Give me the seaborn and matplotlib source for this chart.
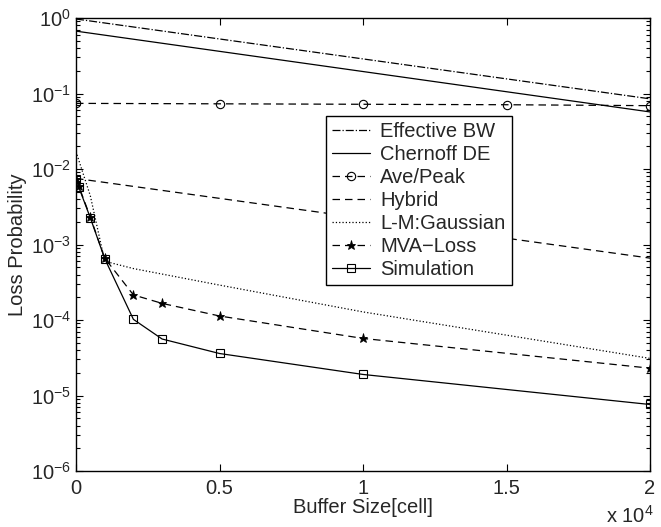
import numpy as np
import pandas as pd
import matplotlib
matplotlib.use('Agg')
import matplotlib.pyplot as plt
import seaborn as sns
from matplotlib.ticker import FixedLocator, FuncFormatter, LogLocator, NullFormatter

# ---------------- data ----------------
ebw_x = [0, 20000]
ebw_y = [0.97, 0.085]

chern_x = [0, 20000]
chern_y = [0.67, 0.057]

avepeak_x = [0, 5000, 10000, 15000, 20000]
avepeak_y = [0.074, 0.073, 0.072, 0.071, 0.069]

hybrid_x = [0, 20000]
hybrid_y = [7.5e-3, 6.6e-4]

lm_x = [0, 500, 1000, 2000, 5000, 10000, 20000]
lm_y = [1.7e-2, 4.4e-3, 6.0e-4, 4.8e-4, 2.9e-4, 1.28e-4, 3.1e-5]

mva_x = [0, 100, 500, 1000, 2000, 3000, 5000, 10000, 20000]
mva_y = [7.4e-3, 5.9e-3, 2.3e-3, 6.6e-4, 2.15e-4, 1.66e-4, 1.13e-4, 5.7e-5, 2.3e-5]

sim_x = [0, 100, 500, 1000, 2000, 3000, 5000, 10000, 20000]
sim_y = [7.4e-3, 5.7e-3, 2.25e-3, 6.5e-4, 1.02e-4, 5.6e-5, 3.6e-5, 1.9e-5, 7.6e-6]

xticks = [0, 5000, 10000, 15000, 20000]

# ---------------- style ----------------
sns.set_style('ticks')
plt.rcParams['font.family'] = ['Liberation Sans', 'DejaVu Sans']
plt.rcParams['mathtext.fontset'] = 'custom'
plt.rcParams['mathtext.rm'] = 'Liberation Sans'
plt.rcParams['mathtext.it'] = 'Liberation Sans'
plt.rcParams['mathtext.default'] = 'regular'
FS = 14.5

fig = plt.figure(figsize=(6.61, 5.27), dpi=100)
ax = fig.add_axes([76/661, 1 - 471/527, (650 - 76)/661, (471 - 18)/527])

lw = 0.9
common = dict(color='k', linewidth=lw, ax=ax, estimator=None, sort=False)

sns.lineplot(x=ebw_x, y=ebw_y, linestyle='-.', label='Effective BW', **common)
sns.lineplot(x=chern_x, y=chern_y, linestyle='-', label='Chernoff DE', **common)
sns.lineplot(x=avepeak_x, y=avepeak_y, linestyle='--', marker='o', markersize=6,
             markerfacecolor='none', markeredgecolor='k', markeredgewidth=0.8,
             label='Ave/Peak', **common)
sns.lineplot(x=hybrid_x, y=hybrid_y, linestyle='--', label='Hybrid', **common)
sns.lineplot(x=lm_x, y=lm_y, linestyle=':', label='L-M:Gaussian', **common)
sns.lineplot(x=mva_x, y=mva_y, linestyle='--', marker='*', markersize=6.5,
             markerfacecolor='k', markeredgecolor='k', markeredgewidth=0.6,
             label='MVA\u2212Loss', **common)
sns.lineplot(x=sim_x, y=sim_y, linestyle='-', marker='s', markersize=6,
             markerfacecolor='none', markeredgecolor='k', markeredgewidth=0.8,
             label='Simulation', **common)

for line in ax.get_lines():
    if line.get_linestyle() == '--':
        line.set_dashes([6, 4])

ax.set_yscale('log')
ax.set_xlim(0, 20000)
ax.set_ylim(1e-6, 1)

ax.xaxis.set_major_locator(FixedLocator(xticks))
ax.xaxis.set_major_formatter(FuncFormatter(lambda v, p: '%g' % (v / 1e4)))
ax.yaxis.set_major_locator(LogLocator(base=10, numticks=10))
ax.yaxis.set_minor_locator(LogLocator(base=10, subs=np.arange(2, 10), numticks=20))
ax.yaxis.set_minor_formatter(NullFormatter())

ax.tick_params(which='both', direction='in', top=True, right=True,
               labelsize=FS, color='k', width=0.8)
ax.tick_params(which='major', length=5)
ax.tick_params(which='minor', length=3)
ax.tick_params(axis='x', pad=5.5)
for s in ax.spines.values():
    s.set_visible(True)
    s.set_linewidth(1.0)
    s.set_color('k')

ax.set_xlabel('Buffer Size[cell]', fontsize=FS, labelpad=0)
ax.set_ylabel('Loss Probability', fontsize=FS, labelpad=2.5)

fig.text(630/661, 1 - 516/527, r'x 10$^{4}$', fontsize=FS, ha='center', va='center')

leg = ax.legend(loc='lower left', bbox_to_anchor=(0.4355, 0.41), fontsize=FS,
                frameon=True, fancybox=False, framealpha=1, edgecolor='k',
                handlelength=1.9, handletextpad=0.5, labelspacing=0.2,
                borderpad=0.3, borderaxespad=0, numpoints=1)
leg.get_frame().set_linewidth(1.0)

fig.savefig('out.png', dpi=100)
